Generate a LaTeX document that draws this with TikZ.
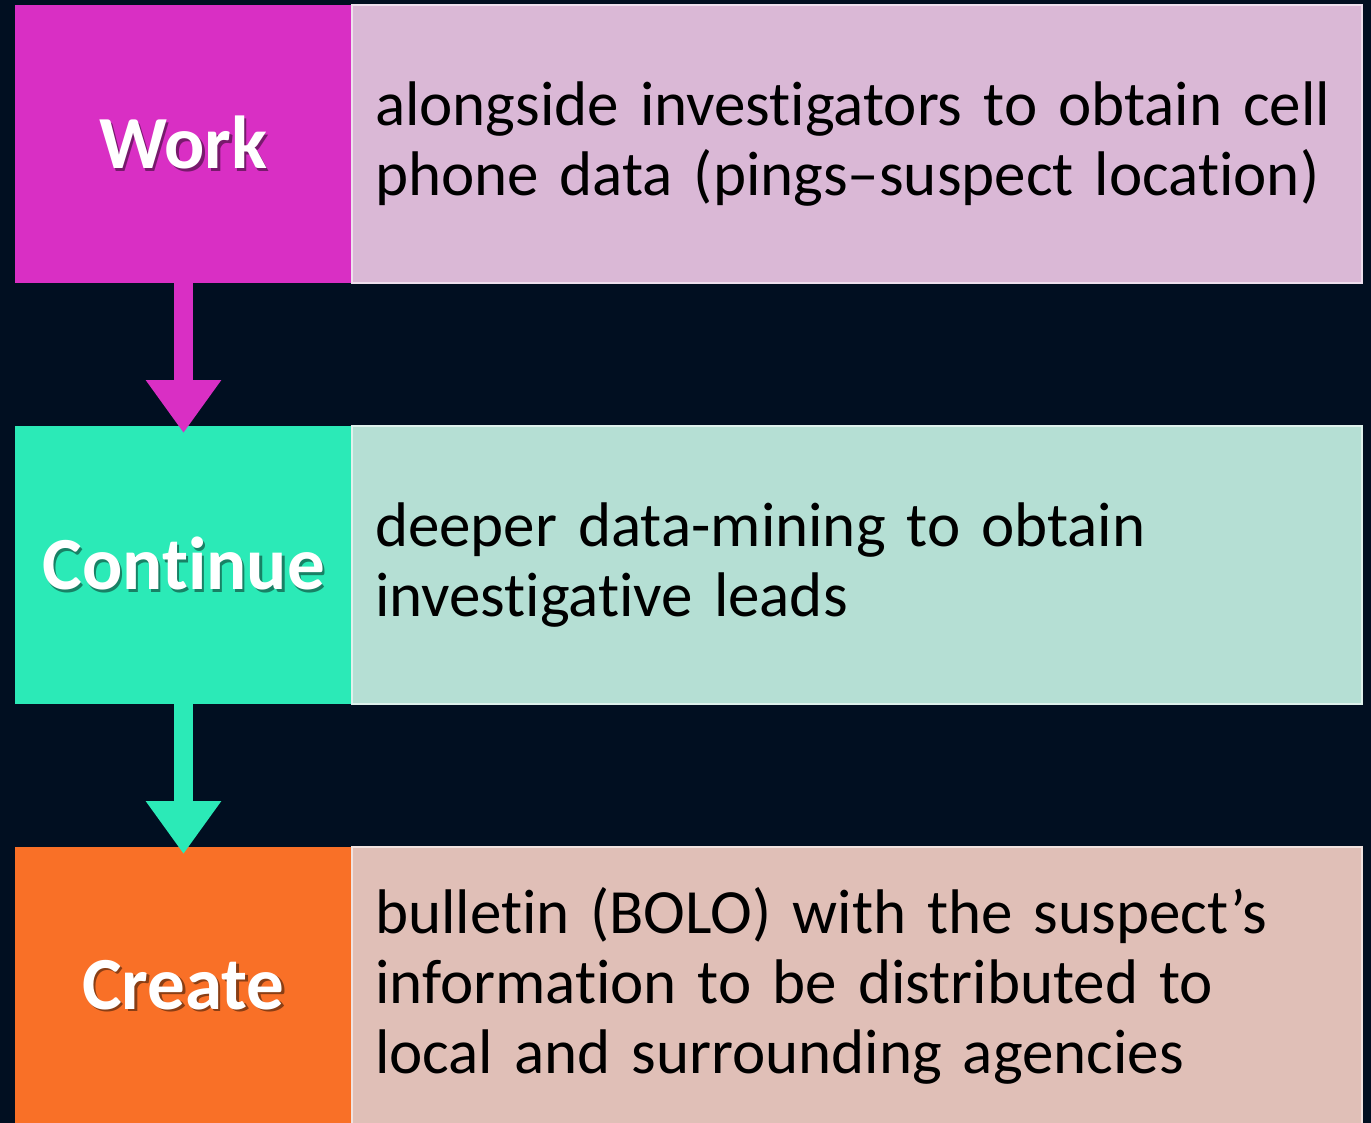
\documentclass[tikz,border=0pt]{standalone}
\usepackage{fontspec}
\setmainfont[Ligatures=NoCommon]{Carlito}
\usepackage{xcolor}
\usepackage{tikz}
\usetikzlibrary{positioning}
\usetikzlibrary{arrows.meta}
\definecolor{navy}{HTML}{010F21}
\definecolor{work}{HTML}{D92FC4}
\definecolor{workl}{HTML}{DAB8D6}
\definecolor{cont}{HTML}{2BEAB7}
\definecolor{contl}{HTML}{B5DFD4}
\definecolor{crea}{HTML}{F97027}
\definecolor{creal}{HTML}{E0BFB7}
\newcommand\shadowed[2]{\leavevmode\rlap{\kern2.5pt\raisebox{-2.5pt}{\textcolor{#1!55!black}{#2}}}#2}

\begin{document}
\begin{tikzpicture}[
  outer sep=0pt,
  stage/.style={minimum width=337pt, minimum height=278pt, inner sep=0pt,
    text=white, font=\fontsize{75}{90}\selectfont\bfseries},
  info/.style={minimum height=278pt, text width=964pt, inner xsep=23pt, inner ysep=0pt,
    align=left, draw=white!55!#1, line width=1.2pt, fill=#1,
    font=\fontsize{63}{70}\selectfont},
  flow/.style={draw=#1, line width=19pt, shorten >=-7pt,
    -{Triangle[width=72pt,length=53pt]}}]
  \useasboundingbox[fill=navy] (0,0) rectangle (1371pt,-1123pt);
  \node[stage, fill=work, anchor=north west] (work) at (15pt,-5pt) {\shadowed{work}{Work}};
  \node[info=workl, right=0pt of work] (worktxt)
    {alongside investigators to obtain cell\\ phone data (pings--suspect location)};
  \node[stage, fill=cont, below=143pt of work] (cont) {\shadowed{cont}{Continue}};
  \node[info=contl, right=0pt of cont] (conttxt)
    {deeper data-mining to obtain\\ investigative leads};
  \node[stage, fill=crea, below=143pt of cont] (crea) {\shadowed{crea}{Create}};
  \node[info=creal, right=0pt of crea] (creatxt)
    {bulletin (BOLO) with the suspect’s\\ information to be distributed to\\ local and surrounding agencies};
  \draw[flow=work] (work.south) -- (cont.north);
  \draw[flow=cont] (cont.south) -- (crea.north);
\end{tikzpicture}
\end{document}
